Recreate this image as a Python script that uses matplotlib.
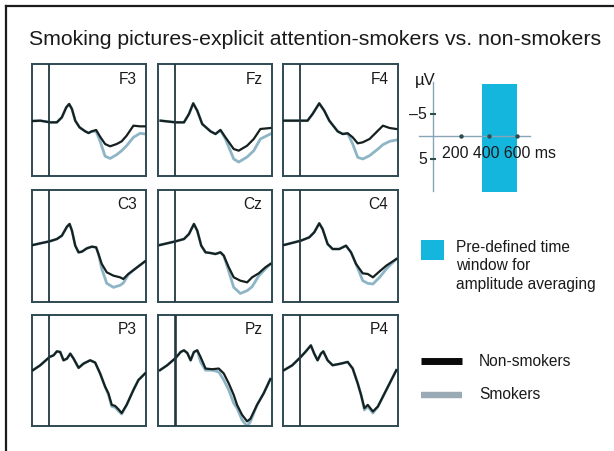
import matplotlib
matplotlib.use("Agg")
import matplotlib.pyplot as plt
from matplotlib.lines import Line2D
from matplotlib.patches import Rectangle

plt.rcParams['font.family'] = ['Liberation Sans', 'DejaVu Sans']

W, H = 614, 452

TITLE = "Smoking pictures-explicit attention-smokers vs. non-smokers"
ELECTRODES = [["F3", "Fz", "F4"], ["C3", "Cz", "C4"], ["P3", "Pz", "P4"]]
SERIES_NAMES = ["Non-smokers", "Smokers"]
WINDOW_LABEL = ["Pre-defined time", "window for", "amplitude averaging"]

# time (ms) and amplitude (µV; negative plotted upward)
F3_t = [-118, -65, 7, 55, 91, 123, 144, 164, 188, 219, 260, 284, 308, 339, 368, 404, 440, 488, 524, 560, 609, 657, 693]
F3_non = [0.07, 0, 0.37, 0.37, -0.74, -2.96, -3.70, -2.59, 0, 1.48, 2.37, 2.74, 2.37, 2.07, 3.56, 5.19, 5.70, 5.19, 4.59, 3.33, 1.11, 1.26, 1.26]
F3_smk = [0.07, 0, 0.37, 0.37, -0.74, -2.96, -3.70, -2.59, 0, 1.48, 2.37, 2.74, 2.37, 2.37, 4.59, 7.9, 8.4, 7.56, 6.67, 5.56, 3.70, 2.81, 2.96]

Fz_t = [-106, 2.5, 63, 99, 130, 159, 195, 255, 291, 327, 363, 423, 459, 520, 568, 616, 688]
Fz_non = [0, 0.37, 0.37, -1.48, -3.85, -2.22, 0.74, 2.37, 2.96, 2.07, 3.70, 6.30, 6.67, 5.56, 4.07, 1.85, 1.63]
Fz_smk = [0, 0.37, 0.37, -1.48, -3.85, -2.22, 0.74, 2.37, 2.96, 2.1, 4.07, 8.52, 9.2, 8.07, 6.67, 4.07, 2.96]

F4_t = [-118, 2.5, 51, 87, 135, 171, 207, 267, 303, 339, 375, 411, 447, 496, 556, 592, 640, 688]
F4_non = [0, 0, 0, -1.48, -3.85, -2.22, 0, 2.37, 2.96, 2.81, 3.70, 5.04, 4.81, 4.07, 2.22, 1.11, 1.63, 1.85]
F4_smk = [0, 0, 0, -1.48, -3.85, -2.22, 0, 2.37, 2.96, 2.81, 5.19, 8.15, 8.52, 7.78, 6.30, 5.33, 4.59, 4.30]

C3_t = [-118, -65, 2.5, 55, 91, 128, 147, 164, 188, 212, 236, 272, 308, 339, 356, 380, 416, 464, 512, 536, 572, 620, 693]
C3_non = [-0.37, -0.74, -1.19, -1.70, -2.44, -4.44, -5.04, -3.56, -0.22, 1.26, 1.11, 0.37, 0, 0.15, 1.63, 3.85, 5.70, 6.44, 6.81, 7.19, 6.07, 4.96, 3.26]
C3_smk = [-0.37, -0.74, -1.19, -1.70, -2.44, -4.44, -5.04, -3.56, -0.22, 1.26, 1.11, 0.37, 0, 0.15, 1.63, 4.96, 8.15, 9.04, 8.59, 8.07, 6.22, 4.96, 3.26]

Cz_t = [-111, 2.5, 63, 99, 135, 159, 188, 219, 255, 291, 327, 351, 387, 423, 471, 520, 556, 604, 652, 688]
Cz_non = [-0.37, -1.19, -1.70, -2.81, -5.04, -3.56, -0.22, 1.26, 1.41, 1.63, 1.26, 2.0, 4.59, 6.81, 7.56, 7.93, 6.81, 5.93, 4.59, 3.85]
Cz_smk = [-0.37, -1.19, -1.70, -2.81, -5.04, -3.56, -0.22, 1.26, 1.41, 1.63, 1.26, 2.0, 5.48, 9.04, 10.4, 9.78, 8.9, 6.5, 4.96, 3.85]

C4_t = [-118, 2.5, 63, 99, 135, 159, 195, 231, 279, 327, 363, 399, 447, 483, 520, 568, 616, 688]
C4_non = [-0.37, -1.33, -2.07, -3.19, -5.19, -3.93, -0.59, 0.52, 0.52, -0.22, 1.26, 3.85, 5.93, 6.07, 6.81, 5.48, 4.22, 2.74]
C4_smk = [-0.37, -1.33, -2.07, -3.19, -5.19, -3.93, -0.59, 0.52, 0.52, -0.22, 1.26, 3.85, 7.56, 8.15, 8.30, 6.81, 4.96, 2.74]

P3_t = [-118, -65, 2.5, 31, 55, 79, 103, 128, 152, 176, 212, 248, 296, 332, 368, 404, 428, 452, 476, 500, 524, 560, 609, 645, 693]
P3_non = [-0.22, -1.33, -3.19, -3.56, -4.44, -4.30, -2.44, -2.81, -3.93, -2.81, -0.74, -1.70, -2.44, -1.93, 0.52, 3.48, 4.96, 7.56, 7.78, 8.52, 9.41, 7.56, 4.22, 2.0, 0.52]
P3_smk = [-0.22, -1.33, -3.19, -3.56, -4.44, -4.30, -2.44, -2.81, -3.93, -2.81, -0.74, -1.70, -2.44, -1.93, 0.52, 3.48, 5.3, 7.9, 8.1, 8.9, 9.6, 7.56, 4.22, 2.0, 0.52]

Pz_t = [-111, -58, 2.5, 39, 63, 87, 111, 135, 159, 183, 219, 267, 315, 351, 387, 423, 447, 483, 520, 544, 592, 640, 688]
Pz_non = [-0.22, -1.33, -2.96, -4.30, -4.67, -4.07, -2.44, -4.30, -4.67, -3.19, -0.59, -0.44, -0.59, 0.52, 2.74, 5.33, 7.56, 9.78, 11.26, 10.67, 7.56, 4.96, 1.78]
Pz_smk = [-0.22, -1.33, -2.96, -4.30, -4.67, -4.07, -2.44, -4.30, -4.67, -2.07, -0.22, -0.22, 0.15, 2.0, 4.22, 7.19, 8.30, 10.9, 12.4, 11.3, 7.56, 4.96, 1.78]

P4_t = [-118, -58, 2.5, 39, 75, 99, 123, 147, 164, 195, 231, 291, 339, 375, 411, 435, 459, 483, 520, 556, 604, 652, 688]
P4_non = [-0.22, -1.33, -3.19, -4.44, -5.78, -3.93, -2.44, -3.93, -4.44, -2.44, -1.33, -1.70, -2.07, -0.59, 2.74, 5.33, 8.30, 7.56, 9.04, 7.93, 4.96, 2.0, -0.22]
P4_smk = [-0.22, -1.33, -3.19, -4.44, -5.78, -3.93, -2.44, -3.93, -4.44, -2.44, -1.33, -1.70, -2.07, -0.59, 2.74, 5.33, 8.7, 7.9, 9.4, 7.93, 4.96, 2.0, -0.22]

DATA = {
    "F3": (F3_t, F3_non, F3_smk), "Fz": (Fz_t, Fz_non, Fz_smk), "F4": (F4_t, F4_non, F4_smk),
    "C3": (C3_t, C3_non, C3_smk), "Cz": (Cz_t, Cz_non, Cz_smk), "C4": (C4_t, C4_non, C4_smk),
    "P3": (P3_t, P3_non, P3_smk), "Pz": (Pz_t, Pz_non, Pz_smk), "P4": (P4_t, P4_non, P4_smk),
}

SCALE_XTICKS = [200, 400, 600]
SCALE_YTICKS = [-5, 5]
WINDOW_MS = [350, 600]
WINDOW_UV = [-11.6, 12.3]

# ---- styling ----
C_NON = "#15201f"
C_SMK = "#8db5c6"
C_FRAME = "#2e4a52"
C_WIN = "#14b6de"
C_AXIS = "#87a5b5"

fig = plt.figure(figsize=(W / 100, H / 100), dpi=100)
fig.patch.set_facecolor("white")


def px_axes(x0, y0, x1, y1):
    return fig.add_axes([x0 / W, 1 - y1 / H, (x1 - x0) / W, (y1 - y0) / H])


def ftext(x, y, s, **kw):
    return fig.text(x / W, 1 - y / H, s, **kw)


# outer frame (left & top)
fig.add_artist(Line2D([6 / W, 6 / W], [0, 1 - 6.5 / H], transform=fig.transFigure, color="#1b1b1b", lw=1.6))
fig.add_artist(Line2D([6 / W, 1], [1 - 6.5 / H, 1 - 6.5 / H], transform=fig.transFigure, color="#1b1b1b", lw=1.6))

ftext(29, 45, TITLE, fontsize=15.3, color="#1a1a1a", va="baseline", ha="left")

col_x = [(32, 146), (158, 272), (283, 398)]
row_y = [(65, 177), (191, 303), (316, 427)]
XLIM = (-125, 700)
YLIM = (12.3, -12.6)

for r, row in enumerate(ELECTRODES):
    for c, name in enumerate(row):
        x0, x1 = col_x[c]
        y0, y1 = row_y[r]
        ax = px_axes(x0, y0, x1, y1)
        t, non, smk = DATA[name]
        ax.plot(t, smk, color=C_SMK, lw=2.0, solid_joinstyle="round", zorder=2)
        ax.plot(t, non, color=C_NON, lw=1.6, solid_joinstyle="round", zorder=3)
        ax.axvline(0, color="#22383e", lw=1.9 if name == "Pz" else 1.3, zorder=4)
        ax.set_xlim(*XLIM)
        ax.set_ylim(*YLIM)
        ax.set_xticks([])
        ax.set_yticks([])
        for s in ax.spines.values():
            s.set_color(C_FRAME)
            s.set_linewidth(1.4)
        ax.set_facecolor("white")
        ftext(x1 - 9.5, y0 + 18.5, name, fontsize=11.2, color="#1a1a1a", ha="right", va="baseline")

# scale bar axes
sx0, sy0, sx1, sy1 = 410, 75, 560, 200
sax = px_axes(sx0, sy0, sx1, sy1)
ms_per_px = 200 / 27.8
uv_per_px = 1 / 4.5
sax.set_xlim((sx0 - 433.3) * ms_per_px, (sx1 - 433.3) * ms_per_px)
sax.set_ylim((sy1 - 137.3) * uv_per_px, (sy0 - 137.3) * uv_per_px)
sax.axis("off")
sax.add_patch(Rectangle((WINDOW_MS[0], WINDOW_UV[0]), WINDOW_MS[1] - WINDOW_MS[0],
                        WINDOW_UV[1] - WINDOW_UV[0], facecolor=C_WIN, edgecolor="none", zorder=1))
sax.plot([-103, 695], [0, 0], color=C_AXIS, lw=1.0, zorder=2)
sax.plot([0, 0], [-12, 12.2], color=C_AXIS, lw=1.0, zorder=2)
sax.plot(SCALE_XTICKS, [0] * len(SCALE_XTICKS), ls="none", marker="o", ms=2.2, color="#2e4a52", zorder=3)
sax.plot([0] * len(SCALE_YTICKS), SCALE_YTICKS, ls="none", marker="_", ms=5, mew=1.5, color="#2e4a52", zorder=3)

ftext(425, 85.5, "µV", fontsize=12, color="#1a1a1a", ha="center", va="baseline")
ftext(427, 114.5, "–5", fontsize=11.4, color="#1a1a1a", ha="right", va="center")
ftext(427, 159.5, "5", fontsize=11.4, color="#1a1a1a", ha="right", va="center")
ftext(441.7, 158.3, "200 400 600 ms", fontsize=11.4, color="#1a1a1a", ha="left", va="baseline")

# legend
lax = px_axes(400, 220, 614, 420)
lax.set_xlim(400, 614)
lax.set_ylim(420, 220)
lax.axis("off")
lax.add_patch(Rectangle((420.7, 241), 23.6, 19.7, facecolor=C_WIN, edgecolor="none"))
lax.add_line(Line2D([420.7, 462.3], [362.3, 362.3], color="#0a0a0a", lw=5, solid_capstyle="butt"))
lax.add_line(Line2D([420.7, 462.3], [395.7, 395.7], color="#9aabb5", lw=4.6, solid_capstyle="butt"))
for i, line in enumerate(WINDOW_LABEL):
    ftext(455.7, 251.7 + i * 18.8, line, fontsize=11.2, color="#1a1a1a", ha="left", va="baseline")
ftext(479, 365.7, SERIES_NAMES[0], fontsize=11.2, color="#1a1a1a", ha="left", va="baseline")
ftext(479, 399, SERIES_NAMES[1], fontsize=11.2, color="#1a1a1a", ha="left", va="baseline")

fig.savefig("out.png", dpi=100, facecolor="white")
